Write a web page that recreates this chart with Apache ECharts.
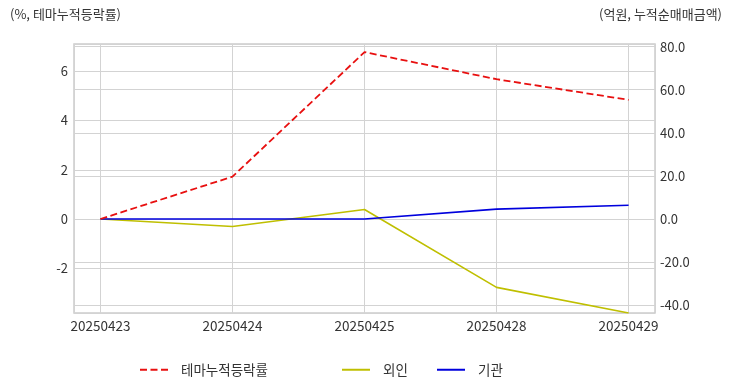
<!DOCTYPE html>
<html>
<head>
<meta charset="utf-8">
<script src="https://cdn.jsdelivr.net/npm/echarts@6/dist/echarts.min.js"></script>
<style>
html,body{margin:0;padding:0;background:#fff;}
#chart{width:732px;height:392px;}
</style>
</head>
<body>
<div id="chart"></div>
<script>
const categories = ['20250423', '20250424', '20250425', '20250428', '20250429'];
const themeReturn = [0, 1.72, 6.78, 5.68, 4.84];
const foreignNet = [0, -3.5, 4.4, -31.7, -43.6];
const instNet = [0, 0, 0, 4.6, 6.4];
const seriesNames = ['테마누적등락률', '외인', '기관'];
const leftAxisTitle = '(%, 테마누적등락률)';
const rightAxisTitle = '(억원, 누적순매매금액)';

const FONT = '"Noto Sans CJK KR", "Noto Sans", sans-serif';
const toPairs = arr => arr.map((v, i) => [i, v]);

const chart = echarts.init(document.getElementById('chart'), null, {renderer: 'canvas'});
const legendBase = {
  top: 363, padding: 0, itemWidth: 28, itemHeight: 12, itemGap: 0,
  itemStyle: {opacity: 0},
  textStyle: {fontFamily: FONT, fontSize: 13.5, color: '#333', padding: [0, 0, 0, 8]}
};
chart.setOption({
  backgroundColor: '#fff',
  animation: false,
  grid: {left: 74, right: 77, top: 44, bottom: 79, show: true, borderColor: '#cccccc', borderWidth: 1.5, backgroundColor: 'transparent'},
  xAxis: {
    type: 'value', min: -0.2, max: 4.2,
    axisLine: {show: false}, axisTick: {show: false},
    splitLine: {show: true, lineStyle: {color: '#d3d3d3', width: 1}},
    axisLabel: {
      fontFamily: FONT, fontSize: 13.5, color: '#333', margin: 6,
      formatter: v => (Math.abs(v - Math.round(v)) < 1e-6 && categories[Math.round(v)] !== undefined) ? categories[Math.round(v)] : ''
    }
  },
  yAxis: [
    {
      type: 'value', position: 'left', min: -3.82, max: 7.11, splitNumber: 5,
      axisLine: {show: false}, axisTick: {show: false},
      splitLine: {show: true, lineStyle: {color: '#d3d3d3', width: 1}},
      axisLabel: {
        fontFamily: FONT, fontSize: 13, color: '#333', margin: 6,
        formatter: v => (Math.abs(v / 2 - Math.round(v / 2)) < 1e-6) ? String(Math.round(v)) : ''
      }
    },
    {
      type: 'value', position: 'right', min: -43.6, max: 81.2, splitNumber: 6,
      axisLine: {show: false}, axisTick: {show: false},
      splitLine: {show: true, lineStyle: {color: '#d3d3d3', width: 1}},
      axisLabel: {
        fontFamily: FONT, fontSize: 13, color: '#333', margin: 5,
        formatter: v => (Math.abs(v / 20 - Math.round(v / 20)) < 1e-6) ? v.toFixed(1) : ''
      }
    }
  ],
  legend: [
    Object.assign({}, legendBase, {left: 139, data: [seriesNames[0]]}),
    Object.assign({}, legendBase, {left: 341, data: [seriesNames[1]]}),
    Object.assign({}, legendBase, {left: 436, data: [seriesNames[2]]})
  ],
  graphic: [
    {type: 'text', left: 10, top: 8, style: {text: leftAxisTitle, font: '13px ' + FONT, fill: '#333'}},
    {type: 'text', right: 10, top: 8, style: {text: rightAxisTitle, font: '13px ' + FONT, fill: '#333'}}
  ],
  series: [
    {name: seriesNames[0], type: 'line', yAxisIndex: 0, data: toPairs(themeReturn), symbol: 'none',
      lineStyle: {color: '#e81010', width: 1.8, type: [7, 3.5]}, itemStyle: {color: '#e81010'}, z: 4},
    {name: seriesNames[1], type: 'line', yAxisIndex: 1, data: toPairs(foreignNet), symbol: 'none',
      lineStyle: {color: '#bfbf00', width: 1.6}, itemStyle: {color: '#bfbf00'}, z: 3},
    {name: seriesNames[2], type: 'line', yAxisIndex: 1, data: toPairs(instNet), symbol: 'none',
      lineStyle: {color: '#0000dd', width: 1.6}, itemStyle: {color: '#0000dd'}, z: 3}
  ]
});
</script>
</body>
</html>
